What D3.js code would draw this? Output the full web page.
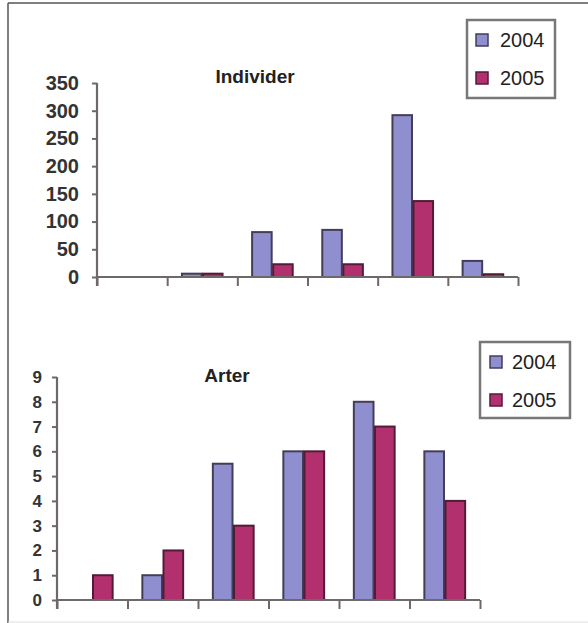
<!DOCTYPE html>
<html><head><meta charset="utf-8">
<script src="https://cdn.jsdelivr.net/npm/d3@7"></script>
<style>body{margin:0;background:#fff}svg{display:block}</style>
</head><body>
<script>
const categories = ["1","2","3","4","5","6"];
const seriesNames = ["2004","2005"];
const indiv2004 = [0, 6, 81, 85, 292, 29];
const indiv2005 = [0, 6, 23, 23, 137, 5];
const indivTicks = [0, 50, 100, 150, 200, 250, 300, 350];
const arter2004 = [0, 1, 5.5, 6, 8, 6];
const arter2005 = [1, 2, 3, 6, 7, 4];
const arterTicks = [0, 1, 2, 3, 4, 5, 6, 7, 8, 9];
const titles = ["Individer", "Arter"];

const fills = {"2004": "#8f8fcf", "2005": "#b3306e"};
const strokes = {"2004": "#433d58", "2005": "#521c38"};

const W = 588, H = 623;
const svg = d3.select("body").append("svg").attr("width", W).attr("height", H);

// outer frame
svg.append("line").attr("x1", 8).attr("x2", W).attr("y1", 3).attr("y2", 3).attr("stroke", "#555").attr("stroke-width", 1.5);
svg.append("line").attr("x1", 8).attr("x2", 8).attr("y1", 3).attr("y2", H).attr("stroke", "#555").attr("stroke-width", 1.5);
svg.append("line").attr("x1", 8).attr("x2", W).attr("y1", 622).attr("y2", 622).attr("stroke", "#ddd").attr("stroke-width", 1);

function chart(cfg) {
  const g = svg.append("g");
  const y = d3.scaleLinear().domain([0, cfg.ticks[cfg.ticks.length - 1]]).range([cfg.y0, cfg.y1]);
  const xb = d3.scaleBand().domain(cfg.categories).range([cfg.x0, cfg.x1]).paddingInner(0.4).paddingOuter(0.2);
  const xs = d3.scaleBand().domain(seriesNames).range([0, xb.bandwidth()]);
  const xl = d3.scaleLinear().domain([0, cfg.categories.length]).range([cfg.x0, cfg.x1]);

  // bars
  const data = cfg.categories.map((c, i) => ({c, vals: [cfg.s1[i], cfg.s2[i]]}));
  const grp = g.selectAll("g.cat").data(data).join("g").attr("transform", d => `translate(${xb(d.c)},0)`);
  grp.selectAll("rect").data(d => d.vals.map((v, j) => ({s: seriesNames[j], v}))).join("rect")
    .filter(d => d.v > 0)
    .attr("x", d => xs(d.s) + 0.75)
    .attr("width", xs.bandwidth() - 1.5)
    .attr("y", d => y(d.v))
    .attr("height", d => cfg.y0 - y(d.v))
    .attr("fill", d => fills[d.s])
    .attr("stroke", d => strokes[d.s])
    .attr("stroke-width", 2);

  // y axis
  const ya = g.append("g").attr("transform", `translate(${cfg.x0},0)`)
    .call(d3.axisLeft(y).tickValues(cfg.ticks).tickSize(5).tickPadding(cfg.tickPad).tickFormat(d3.format("d")));
  ya.select(".domain").attr("stroke", "#6e6868").attr("stroke-width", 2.2).attr("d", `M0,${cfg.y1}V${cfg.y0 + 9}`);
  ya.selectAll(".tick line").attr("stroke", "#6e6868").attr("stroke-width", 2);
  ya.selectAll(".tick text").attr("fill", "#333").style("font-family", "'Liberation Sans', Arial, sans-serif")
    .style("font-size", cfg.fs + "px").style("font-weight", "bold");

  // x axis (ticks at category boundaries)
  const xa = g.append("g").attr("transform", `translate(0,${cfg.y0})`)
    .call(d3.axisBottom(xl).tickValues(d3.range(cfg.categories.length + 1)).tickSize(9).tickFormat(""));
  xa.select(".domain").attr("stroke", "#6e6868").attr("stroke-width", 2.2).attr("d", `M${cfg.x0},0H${cfg.x1}`);
  xa.selectAll(".tick line").attr("stroke", "#6e6868").attr("stroke-width", 2);

  // title
  g.append("text").attr("x", cfg.tx).attr("y", cfg.ty).attr("text-anchor", "middle")
    .attr("dominant-baseline", "central")
    .style("font-family", "'Liberation Sans', Arial, sans-serif").style("font-size", "19px").style("font-weight", "bold")
    .attr("fill", "#222").text(cfg.title);

  // legend
  const L = cfg.legend;
  g.append("rect").attr("x", L.x).attr("y", L.y).attr("width", L.w).attr("height", L.h)
    .attr("fill", "#fff").attr("stroke", "#777").attr("stroke-width", 2.5);
  seriesNames.forEach((s, i) => {
    const cy = L.y + L.first + i * L.gap;
    g.append("rect").attr("x", L.sx).attr("y", cy - 6).attr("width", 12).attr("height", 12)
      .attr("fill", fills[s]).attr("stroke", strokes[s]).attr("stroke-width", 1.5);
    g.append("text").attr("x", L.tx).attr("y", cy).attr("dominant-baseline", "central")
      .style("font-family", "'Liberation Sans', Arial, sans-serif").style("font-size", "20px")
      .attr("fill", "#222").text(s);
  });
}

chart({categories, s1: indiv2004, s2: indiv2005, ticks: indivTicks, title: titles[0],
  x0: 97, x1: 518, y0: 277, y1: 83, fs: 20, tickPad: 13, tx: 255, ty: 76,
  legend: {x: 467, y: 20, w: 88, h: 78, first: 20, gap: 38, sx: 476, tx: 500}});

chart({categories, s1: arter2004, s2: arter2005, ticks: arterTicks, title: titles[1],
  x0: 57, x1: 480, y0: 600, y1: 377, fs: 17, tickPad: 10, tx: 227, ty: 375,
  legend: {x: 480, y: 342, w: 90, h: 76, first: 20, gap: 38, sx: 490, tx: 512}});
</script>
</body></html>
